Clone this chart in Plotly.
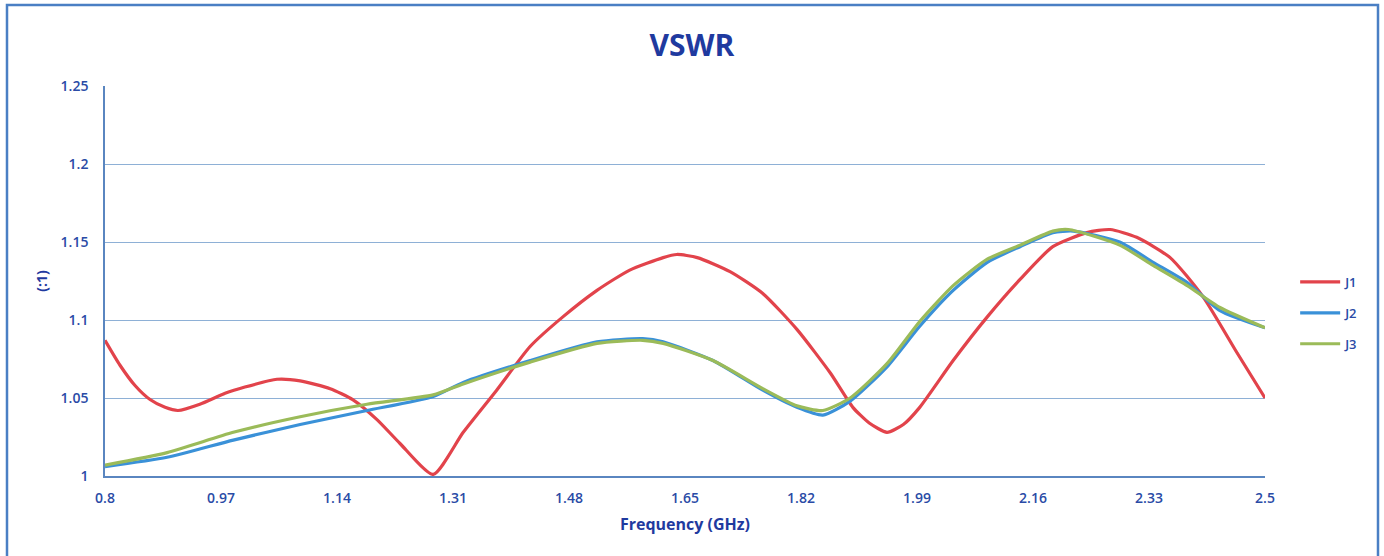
import plotly.graph_objects as go

j1_freq = [0.800, 0.822, 0.844, 0.866, 0.888, 0.907, 0.939, 0.976, 1.005, 1.052, 1.086, 1.130, 1.163,
           1.199, 1.232, 1.281, 1.325, 1.374, 1.423, 1.471, 1.521, 1.569, 1.618, 1.638, 1.668, 1.716,
           1.764, 1.814, 1.863, 1.896, 1.920, 1.946, 1.970, 1.994, 2.043, 2.093, 2.141, 2.189, 2.239,
           2.273, 2.312, 2.361, 2.409, 2.459, 2.500]
j1_vswr = [1.087, 1.071, 1.058, 1.049, 1.044, 1.042, 1.046, 1.053, 1.057, 1.062, 1.061, 1.056, 1.049,
           1.036, 1.021, 1.001, 1.028, 1.055, 1.083, 1.102, 1.119, 1.132, 1.140, 1.142, 1.140, 1.131,
           1.117, 1.094, 1.066, 1.044, 1.034, 1.028, 1.033, 1.044, 1.074, 1.102, 1.126, 1.147, 1.156,
           1.158, 1.153, 1.140, 1.115, 1.079, 1.050]

j2_freq = [0.800, 0.891, 0.988, 1.086, 1.184, 1.281, 1.325, 1.423, 1.521, 1.588, 1.618, 1.691, 1.764,
           1.814, 1.852, 1.892, 1.946, 1.994, 2.043, 2.093, 2.141, 2.189, 2.219, 2.287, 2.336, 2.386,
           2.434, 2.500]
j2_vswr = [1.006, 1.012, 1.023, 1.033, 1.042, 1.051, 1.060, 1.074, 1.086, 1.088, 1.086, 1.074, 1.055,
           1.044, 1.039, 1.048, 1.070, 1.096, 1.119, 1.137, 1.147, 1.156, 1.157, 1.150, 1.137, 1.124,
           1.106, 1.095]

j3_freq = [0.800, 0.891, 0.988, 1.086, 1.184, 1.281, 1.325, 1.423, 1.521, 1.588, 1.618, 1.691, 1.764,
           1.814, 1.852, 1.892, 1.946, 1.994, 2.043, 2.093, 2.141, 2.189, 2.212, 2.287, 2.336, 2.386,
           2.434, 2.500]
j3_vswr = [1.007, 1.015, 1.028, 1.038, 1.046, 1.052, 1.059, 1.073, 1.085, 1.087, 1.085, 1.074, 1.056,
           1.045, 1.042, 1.050, 1.072, 1.099, 1.122, 1.139, 1.148, 1.157, 1.158, 1.148, 1.135, 1.122,
           1.108, 1.095]

x_ticks = [0.8, 0.97, 1.14, 1.31, 1.48, 1.65, 1.82, 1.99, 2.16, 2.33, 2.5]
x_labels = ["0.8", "0.97", "1.14", "1.31", "1.48", "1.65", "1.82", "1.99", "2.16", "2.33", "2.5"]
y_ticks = [1, 1.05, 1.1, 1.15, 1.2, 1.25]
y_labels = ["1", "1.05", "1.1", "1.15", "1.2", "1.25"]

TXT = "#2A4BA6"
FONT = "Open Sans"

fig = go.Figure()
series = [("J1", j1_freq, j1_vswr, "#E2434B"),
          ("J2", j2_freq, j2_vswr, "#3A91D8"),
          ("J3", j3_freq, j3_vswr, "#9BBB59")]
for name, xs, ys, col in series:
    fig.add_trace(go.Scatter(x=xs, y=ys, name=name, mode="lines", legendgroup=name,
                             line=dict(color=col, width=3.2, shape="spline", smoothing=0.6)))

fig.update_layout(
    width=1384, height=556,
    margin=dict(l=105, r=119, t=86, b=80),
    paper_bgcolor="white", plot_bgcolor="white",
    font=dict(family=FONT, color=TXT, size=13),
    title=dict(text="<b>VSWR</b>", x=0.5, xanchor="center", y=0.918, yanchor="middle",
               font=dict(size=30, color="#1F3A9F", family=FONT)),
    showlegend=True,
    legend=dict(x=1.026, y=0.418, xanchor="left", yanchor="middle",
                font=dict(size=13, color=TXT, family=FONT, weight=600), tracegroupgap=11,
                itemwidth=40, bgcolor="rgba(0,0,0,0)"),
    xaxis=dict(range=[0.8, 2.5], tickvals=x_ticks, ticktext=x_labels, showgrid=False,
               showline=True, linecolor="#5A86C0", linewidth=1.5, zeroline=False,
               ticks="", ticklabelstandoff=8, tickfont=dict(size=14, color=TXT, weight=600),
               title=dict(text="<b>Frequency (GHz)</b>", font=dict(size=16, color="#1F3A9F"), standoff=13)),
    yaxis=dict(range=[1, 1.25], tickvals=y_ticks, ticktext=y_labels, showgrid=True,
               gridcolor="#8EB0D6", gridwidth=1, showline=True, linecolor="#5A86C0", linewidth=1.5,
               zeroline=False, ticks="", ticklabelstandoff=12, tickfont=dict(size=14, color=TXT, weight=600),
               title=dict(text="<b>(:1)</b>", font=dict(size=14, color="#1F3A9F"), standoff=10)),
)

# outer chart frame
fig.add_shape(type="rect", xref="paper", yref="paper",
              x0=(7 - 105) / 1160, x1=(1378 - 105) / 1160,
              y0=(476 - 560) / 390, y1=(476 - 5) / 390,
              line=dict(color="#4A7FC4", width=2.5), fillcolor="rgba(0,0,0,0)", layer="below")

fig.write_html("out.html", config={"displayModeBar": False},
               post_script="document.body.style.margin='0';document.body.style.overflow='hidden';")
